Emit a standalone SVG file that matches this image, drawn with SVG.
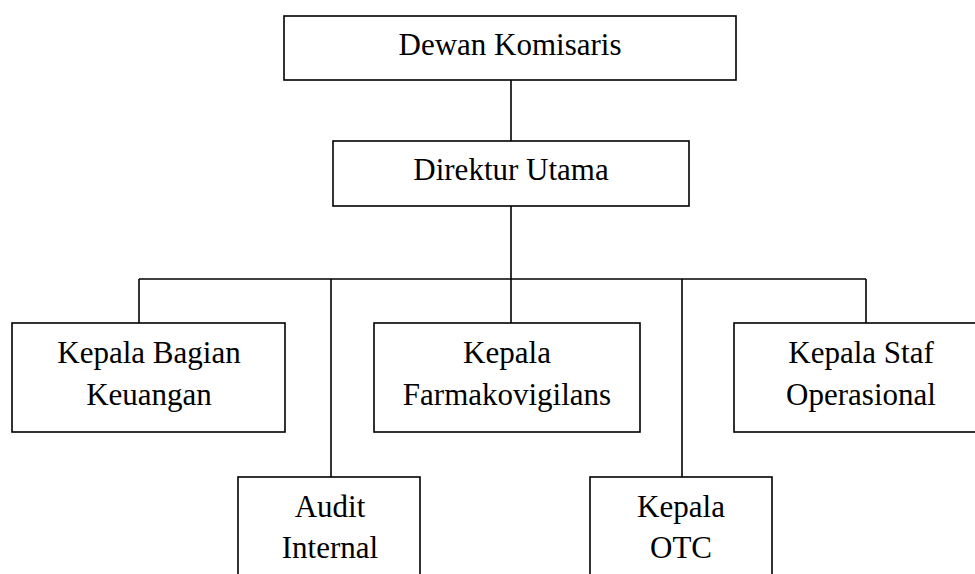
<svg xmlns="http://www.w3.org/2000/svg" width="975" height="574" viewBox="0 0 975 574">
  <style>
    .box { fill: #fff; stroke: #000; stroke-width: 1.6; }
    .line { fill: none; stroke: #000; stroke-width: 1.6; }
    text { font-family: "Liberation Serif", "Times New Roman", serif; font-size: 31px; fill: #000; text-anchor: middle; }
  </style>
  <rect width="975" height="574" fill="#fff"/>

  <!-- connectors -->
  <g id="connectors">
    <line class="line" x1="511" y1="80" x2="511" y2="141"/>
    <line class="line" x1="511" y1="206" x2="511" y2="279"/>
    <line class="line" x1="139" y1="279" x2="866" y2="279"/>
    <line class="line" x1="139" y1="279" x2="139" y2="323"/>
    <line class="line" x1="331" y1="279" x2="331" y2="477"/>
    <line class="line" x1="511" y1="279" x2="511" y2="323"/>
    <line class="line" x1="682" y1="279" x2="682" y2="477"/>
    <line class="line" x1="866" y1="279" x2="866" y2="323"/>
  </g>

  <g id="dewan-komisaris">
    <rect class="box" x="284" y="16" width="452" height="64"/>
    <text x="510" y="55">Dewan Komisaris</text>
  </g>

  <g id="direktur-utama">
    <rect class="box" x="333" y="141" width="356" height="65"/>
    <text x="511" y="180">Direktur Utama</text>
  </g>

  <g id="kepala-bagian-keuangan">
    <rect class="box" x="12" y="323" width="273" height="109"/>
    <text x="149" y="363">Kepala Bagian</text>
    <text x="149" y="405">Keuangan</text>
  </g>

  <g id="kepala-farmakovigilans">
    <rect class="box" x="374" y="323" width="266" height="109"/>
    <text x="507" y="363">Kepala</text>
    <text x="507" y="405">Farmakovigilans</text>
  </g>

  <g id="kepala-staf-operasional">
    <rect class="box" x="734" y="323" width="254" height="109"/>
    <text x="861" y="363">Kepala Staf</text>
    <text x="861" y="405">Operasional</text>
  </g>

  <g id="audit-internal">
    <rect class="box" x="238" y="477" width="182" height="110"/>
    <text x="330" y="517">Audit</text>
    <text x="330" y="558">Internal</text>
  </g>

  <g id="kepala-otc">
    <rect class="box" x="590" y="477" width="182" height="110"/>
    <text x="681" y="517">Kepala</text>
    <text x="681" y="558">OTC</text>
  </g>
</svg>
